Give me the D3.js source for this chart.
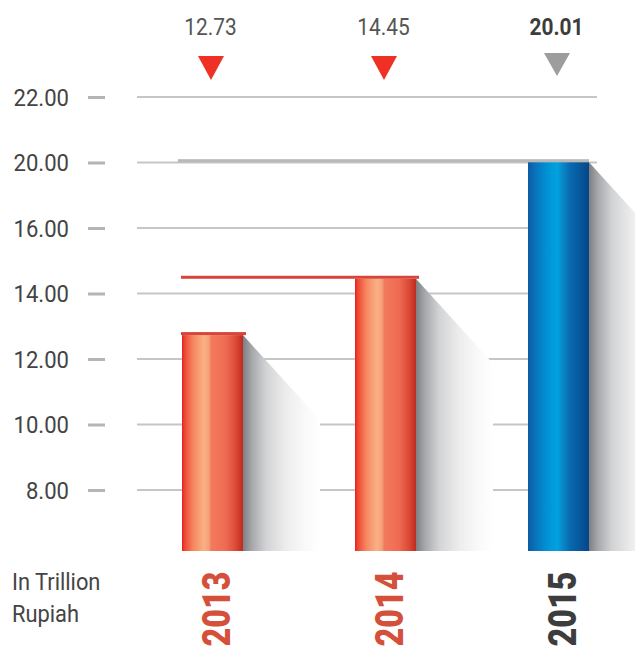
<!DOCTYPE html>
<html>
<head>
<meta charset="utf-8">
<script src="https://cdn.jsdelivr.net/npm/d3@7/dist/d3.min.js"></script>
<style>
  html, body { margin: 0; padding: 0; background: #ffffff; }
  svg { display: block; }
  text { font-family: Roboto, "Open Sans", sans-serif; }
</style>
</head>
<body>
<svg id="chart" width="635" height="653"></svg>
<script>
// Annual values, in trillion rupiah
const years = ["2013", "2014", "2015"];
const values = [12.73, 14.45, 20.01];
const valueLabels = ["12.73", "14.45", "20.01"];
const highlightYear = "2015";

// Axis ticks as printed on the chart
const tickValues = [8, 10, 12, 14, 16, 20, 22];
const tickLabels = ["8.00", "10.00", "12.00", "14.00", "16.00", "20.00", "22.00"];

const unitLines = ["In Trillion", "Rupiah"];

// ---- layout ----
const W = 635, H = 653;
const gridLeft = 137, gridRight = 597;
const tickBottom = 490, tickStep = 65.5;
const plotBottom = 551;
const barWidth = 61;
const shadowW = 77;

const svg = d3.select("#chart");
const defs = svg.append("defs");

function addGradient(id, stops) {
  const g = defs.append("linearGradient").attr("id", id)
    .attr("x1", "0%").attr("x2", "100%").attr("y1", "0%").attr("y2", "0%");
  stops.forEach(([o, c]) => g.append("stop").attr("offset", o).attr("stop-color", c));
}
addGradient("barRed", [[0, "#e42127"], [0.05, "#ee4a34"], [0.18, "#f6855f"], [0.36, "#f9b185"],
  [0.44, "#f7a07a"], [0.48, "#f27a5c"], [0.72, "#ef6b53"], [0.88, "#dc4a36"], [1, "#bd2a21"]]);
addGradient("barBlue", [[0, "#0a5ba3"], [0.12, "#0b72bb"], [0.3, "#0091d3"], [0.48, "#00a2e0"],
  [0.55, "#0a8dcc"], [0.7, "#0868ae"], [1, "#064689"]]);
addGradient("shade", [[0, "#7e7f83"], [0.12, "#a8a9ac"], [0.3, "#d2d3d5"], [0.55, "#ececec"],
  [0.8, "#f9f9f9"], [1, "#ffffff"]]);

// y: the axis places its printed ticks at even spacing
const y = d3.scaleLinear()
  .domain(tickValues)
  .range(tickValues.map((d, i) => tickBottom - i * tickStep));

// x: bar centres
const x = d3.scalePoint().domain(years).range([212.5, 558.5]);

// Squeeze text horizontally for a condensed look
function condense(sel, f) {
  sel.each(function () {
    const len = this.getComputedTextLength();
    d3.select(this).attr("textLength", len * f).attr("lengthAdjust", "spacingAndGlyphs");
  });
}

// gridlines
svg.append("g").selectAll("line").data(tickValues).join("line")
  .attr("x1", gridLeft).attr("x2", gridRight)
  .attr("y1", d => y(d)).attr("y2", d => y(d))
  .attr("stroke", "#c6c6c6").attr("stroke-width", 2);

// axis with short tick marks and labels
const axis = d3.axisLeft(y)
  .tickValues(tickValues)
  .tickFormat((d, i) => tickLabels[i])
  .tickSize(17)
  .tickPadding(19);
const gAxis = svg.append("g").attr("transform", "translate(105,0)").call(axis);
gAxis.select(".domain").remove();
gAxis.selectAll(".tick line").attr("stroke", "#b5b5b5").attr("stroke-width", 3);
gAxis.selectAll(".tick text")
  .attr("font-size", 24).attr("fill", "#444444").attr("dy", null)
  .attr("dominant-baseline", "central")
  .call(condense, 0.92);

const rows = years.map((yr, i) => ({ year: yr, value: values[i], label: valueLabels[i], idx: i }));

// drop shadows to the right of each bar
svg.append("g").selectAll("path").data(rows).join("path")
  .attr("d", d => {
    const xr = x(d.year) + barWidth / 2, yt = y(d.value);
    return `M${xr},${yt} L${xr + shadowW},${yt + shadowW * 1.1} L${xr + shadowW},${plotBottom} L${xr},${plotBottom} Z`;
  })
  .attr("fill", "url(#shade)");

// bars
svg.append("g").selectAll("rect").data(rows).join("rect")
  .attr("x", d => x(d.year) - barWidth / 2)
  .attr("y", d => y(d.value))
  .attr("width", barWidth)
  .attr("height", d => plotBottom - y(d.value))
  .attr("fill", d => d.year === highlightYear ? "url(#barBlue)" : "url(#barRed)");

// level caps: each bar's top line, carried back to the first bar's left edge
const first = years[0];
svg.append("g").selectAll("rect").data(rows).join("rect")
  .attr("x", d => x(first) - barWidth / 2 - (d.year === highlightYear ? 4 : 1))
  .attr("y", d => y(d.value) - 3)
  .attr("width", d => (x(d.year) + barWidth / 2 + (d.year === highlightYear ? 0 : 3))
    - (x(first) - barWidth / 2 - (d.year === highlightYear ? 4 : 1)))
  .attr("height", 3)
  .attr("fill", d => d.year === highlightYear ? "#b9b9b9" : "#d6443a");

// value labels
svg.append("g").selectAll("text").data(rows).join("text")
  .attr("x", d => x(d.year) - 2)
  .attr("y", 35)
  .attr("text-anchor", "middle")
  .attr("font-size", 24)
  .attr("font-weight", d => d.year === highlightYear ? 700 : 400)
  .attr("fill", d => d.year === highlightYear ? "#3c3c3c" : "#555555")
  .text(d => d.label)
  .call(condense, 0.87);

// markers below the labels
svg.append("g").selectAll("path").data(rows).join("path")
  .attr("transform", d => `translate(${x(d.year) - 1.5},${d.year === highlightYear ? 53 : 56})`)
  .attr("d", d => d.year === highlightYear ? "M-13,0 L13,0 L0,23 Z" : "M-13,0 L13,0 L0,24 Z")
  .attr("fill", d => d.year === highlightYear ? "#9d9d9d" : "#ee3124");

// year labels, rotated
svg.append("g").selectAll("text").data(rows).join("text")
  .attr("transform", d => `translate(${x(d.year) + 4},609) rotate(-90)`)
  .attr("text-anchor", "middle")
  .attr("dominant-baseline", "central")
  .attr("font-size", 38)
  .attr("font-weight", 900)
  .attr("fill", d => d.year === highlightYear ? "#3d3d3d" : "#d4503a")
  .text(d => d.year)
  .call(condense, 0.85);

// unit note
svg.append("g").selectAll("text").data(unitLines).join("text")
  .attr("x", 12)
  .attr("y", (d, i) => 590 + i * 32)
  .attr("font-size", 23)
  .attr("fill", "#444444")
  .text(d => d)
  .call(condense, 0.95);
</script>
</body>
</html>
